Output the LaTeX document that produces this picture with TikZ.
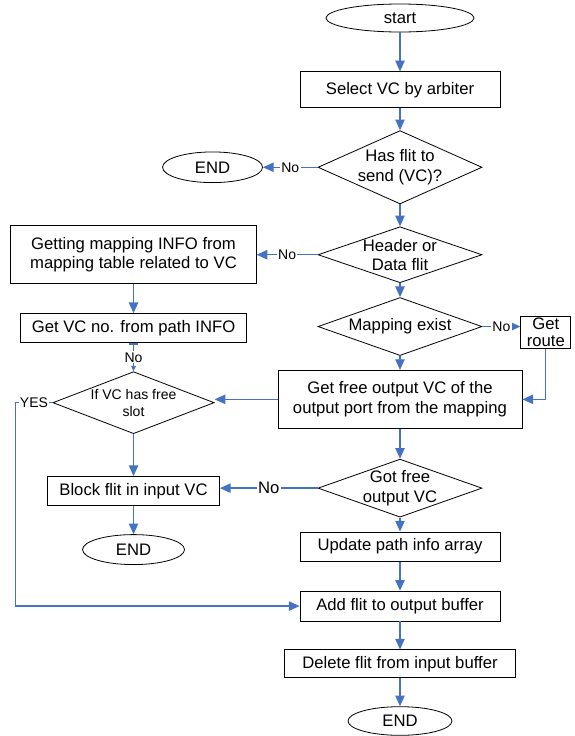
\documentclass[tikz,border=0pt]{standalone}
\usepackage{fontspec}
\setmainfont{Liberation Sans}
\usetikzlibrary{shapes.geometric, arrows.meta, positioning, calc}
\definecolor{flowBlue}{RGB}{68, 114, 196}

\begin{document}
\begin{tikzpicture}[
        box/.style={rectangle, draw=black, line width=0.6pt, minimum height=22pt, inner sep=1pt, align=center, font=\fontsize{12.5}{14.5}\selectfont},
        term/.style={ellipse, draw=black, line width=0.6pt, minimum width=76pt, minimum height=22pt, inner sep=0pt, font=\fontsize{12.5}{14.5}\selectfont},
        decision/.style={diamond, aspect=2.9, draw=black, line width=0.6pt, minimum width=123pt, minimum height=43.5pt, inner sep=-6pt, align=center, font=\fontsize{12.5}{14.5}\selectfont},
        arrow/.style={-{Triangle[length=8pt, width=7pt]}, line width=1pt, flowBlue},
        lbl/.style={fill=white, inner sep=1pt, text=black, font=\fontsize{10.5}{12}\selectfont}
    ]
        \useasboundingbox (0,0) rectangle (431.25pt,-552pt);

        % Main flow
        \node[term, minimum width=111pt, minimum height=21pt] (start) at (300pt,-13.5pt) {start};
        \node[box, minimum width=150pt, minimum height=27pt, below=29.25pt of start] (select) {Select VC by arbiter};
        \node[decision, minimum height=55pt, below=16.5pt of select] (hasflit) {Has flit to\\send (VC)?};
        \node[decision, minimum height=42pt, below=16.5pt of hasflit] (header) {Header or\\Data flit};
        \node[decision, below=10.5pt of header] (mapex) {Mapping exist};
        \node[box, minimum width=183pt, minimum height=43.5pt, below=10.5pt of mapex] (getfree) {Get free output VC of the\\output port from the mapping};
        \node[decision, below=22.5pt of getfree] (gotfree) {Got free\\output VC};
        \node[box, minimum width=150pt, below=10.5pt of gotfree] (update) {Update path info array};
        \node[box, minimum width=150pt, minimum height=22.5pt, below=21.75pt of update] (addflit) {Add flit to output buffer};
        \node[box, minimum width=173pt, minimum height=21pt, below=21pt of addflit] (delete) {Delete flit from input buffer};
        \node[term, minimum width=78pt, minimum height=21.5pt, below=21pt of delete] (end3) {END};

        % Side branches
        \node[term, minimum width=75pt, minimum height=23pt, left=41pt of hasflit] (end1) {END};
        \node[box, minimum width=184pt, minimum height=43.5pt, left=45.75pt of header] (getmap) {Getting mapping INFO from\\mapping table related to VC};
        \node[box, minimum width=169.5pt, below=21.75pt of getmap] (getvc) {Get VC no. from path INFO};
        \node[decision, minimum width=121pt, minimum height=46.5pt, below=21pt of getvc, font=\fontsize{10.5}{12.5}\selectfont] (vcfree) {If VC has free\\slot};
        \node[box, minimum width=129pt, below=31.5pt of vcfree] (block) {Block flit in input VC};
        \node[term, minimum width=76.5pt, minimum height=22.5pt, below=21pt of block] (end2) {END};
        \node[box, minimum width=37.5pt, minimum height=24pt, right=28.5pt of mapex, yshift=-4.5pt, font=\fontsize{12.5}{13}\selectfont] (route) {Get\\route};
        \coordinate (yescorner) at ($(vcfree.west)+(-27.75pt,0)$);

        \draw[arrow] (start) -- (select);
        \draw[arrow] (select) -- (hasflit);
        \draw[arrow] (hasflit) -- (header);
        \draw[arrow] (header) -- (mapex);
        \draw[arrow] (mapex) -- (getfree);
        \draw[arrow] (getfree) -- (gotfree);
        \draw[arrow] (gotfree) -- (update);
        \draw[arrow] (update) -- (addflit);
        \draw[arrow] (addflit) -- (delete);
        \draw[arrow] (delete) -- (end3);

        \draw[arrow] (hasflit.west) -- node[lbl] {No} (end1.east);
        \draw[arrow] (header.west) -- node[lbl] {No} (getmap.east);
        \draw[arrow] (getmap) -- (getvc);
        \draw[arrow, {Bar[width=7pt]}-{Triangle[length=4pt, width=3.5pt]}] (getvc) -- node[lbl] {No} (vcfree);
        \draw[arrow] (mapex.east) -- node[lbl] {No} (mapex.east -| route.west);
        \draw[arrow] (route.south) |- (getfree.east);
        \draw[arrow] (getfree.west) -- (getfree.west -| vcfree.east);
        \draw[arrow] (vcfree) -- (block);
        \draw[arrow] (gotfree.west) -- node[lbl, font=\fontsize{12.5}{14.5}\selectfont] {No} (gotfree.west -| block.east);
        \draw[arrow] (block) -- (end2);
        \draw[arrow] (vcfree.west) -- node[lbl] {YES} (yescorner) |- (addflit.west);
    \end{tikzpicture}
\end{document}
